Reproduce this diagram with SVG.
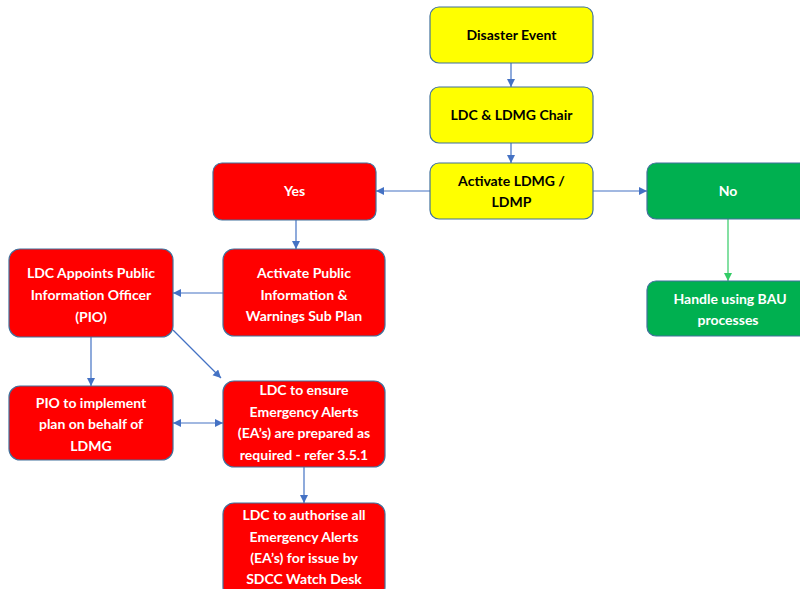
<svg xmlns="http://www.w3.org/2000/svg" width="800" height="589" viewBox="0 0 800 589">
<style>
.box{stroke:#41719C;stroke-width:1.2}
.y{fill:#FFFF00}
.r{fill:#FF0000}
.g{fill:#00B050}
text{font-family:Lato,"Open Sans","Liberation Sans",sans-serif;font-weight:bold;font-size:14px;text-anchor:middle}
.w{fill:#FFFFFF}
.k{fill:#000000}
.c{stroke:#4472C4;stroke-width:1.2;fill:none}
.cg{stroke:#33CC66;stroke-width:1.2;fill:none}
</style>
<defs>
<marker id="a" markerUnits="userSpaceOnUse" markerWidth="10" markerHeight="10" refX="8" refY="4" orient="auto"><path d="M0,0 L8,4 L0,8 Z" fill="#4472C4"/></marker>
<marker id="as" markerUnits="userSpaceOnUse" markerWidth="10" markerHeight="10" refX="0" refY="4" orient="auto"><path d="M8,0 L0,4 L8,8 Z" fill="#4472C4"/></marker>
<marker id="ag" markerUnits="userSpaceOnUse" markerWidth="10" markerHeight="10" refX="8" refY="4" orient="auto"><path d="M0,0 L8,4 L0,8 Z" fill="#33CC66"/></marker>
</defs>
<rect width="800" height="589" fill="#FFFFFF"/>
<g id="connectors">
<line class="c" x1="511" y1="63" x2="511" y2="87" marker-end="url(#a)"/>
<line class="c" x1="511" y1="143" x2="511" y2="163" marker-end="url(#a)"/>
<line class="c" x1="430" y1="191" x2="376" y2="191" marker-end="url(#a)"/>
<line class="c" x1="593" y1="191" x2="647" y2="191" marker-end="url(#a)"/>
<line class="cg" x1="728" y1="219" x2="728" y2="281" marker-end="url(#ag)"/>
<line class="c" x1="296" y1="220" x2="296" y2="249" marker-end="url(#a)"/>
<line class="c" x1="223" y1="293" x2="173" y2="293" marker-end="url(#a)"/>
<line class="c" x1="91" y1="337" x2="91" y2="386" marker-end="url(#a)"/>
<line class="c" x1="173" y1="330" x2="221" y2="378" marker-end="url(#a)"/>
<line class="c" x1="173" y1="423" x2="223" y2="423" marker-start="url(#as)" marker-end="url(#a)"/>
<line class="c" x1="304" y1="467" x2="304" y2="503" marker-end="url(#a)"/>
</g>
<g id="disaster">
<rect class="box y" x="430" y="7" width="163" height="56" rx="9"/>
<text class="k" x="511.5" y="40">Disaster Event</text>
</g>
<g id="chair">
<rect class="box y" x="430" y="87" width="163" height="56" rx="9"/>
<text class="k" x="511.5" y="120">LDC &amp; LDMG Chair</text>
</g>
<g id="activate-ldmg">
<rect class="box y" x="430" y="163" width="163" height="56" rx="9"/>
<text class="k" x="511.5" y="186">Activate LDMG /</text>
<text class="k" x="511.5" y="207">LDMP</text>
</g>
<g id="yes">
<rect class="box r" x="213" y="163" width="163" height="57" rx="9"/>
<text class="w" x="294.5" y="196">Yes</text>
</g>
<g id="no">
<rect class="box g" x="647" y="163" width="163" height="56" rx="9"/>
<text class="w" x="728" y="196">No</text>
</g>
<g id="handle">
<rect class="box g" x="647" y="281" width="163" height="55" rx="9"/>
<text class="w" x="730" y="304">Handle using BAU</text>
<text class="w" x="728" y="325">processes</text>
</g>
<g id="activate-public">
<rect class="box r" x="223" y="249" width="162" height="87" rx="11"/>
<text class="w" x="304" y="278">Activate Public</text>
<text class="w" x="304" y="300">Information &amp;</text>
<text class="w" x="304" y="321">Warnings Sub Plan</text>
</g>
<g id="appoints">
<rect class="box r" x="9" y="249" width="164" height="88" rx="11"/>
<text class="w" x="91" y="278">LDC Appoints Public</text>
<text class="w" x="91" y="300">Information Officer</text>
<text class="w" x="91" y="322">(PIO)</text>
</g>
<g id="pio">
<rect class="box r" x="9" y="386" width="164" height="74" rx="11"/>
<text class="w" x="91" y="408">PIO to implement</text>
<text class="w" x="91" y="429">plan on behalf of</text>
<text class="w" x="91" y="451">LDMG</text>
</g>
<g id="ensure">
<rect class="box r" x="223" y="381" width="162" height="86" rx="11"/>
<text class="w" x="304" y="395">LDC to ensure</text>
<text class="w" x="304" y="417">Emergency Alerts</text>
<text class="w" x="304" y="438">(EA’s) are prepared as</text>
<text class="w" x="304" y="460">required - refer 3.5.1</text>
</g>
<g id="authorise">
<rect class="box r" x="223" y="503" width="162" height="95" rx="11"/>
<text class="w" x="304" y="520">LDC to authorise all</text>
<text class="w" x="304" y="542">Emergency Alerts</text>
<text class="w" x="304" y="563">(EA’s) for issue by</text>
<text class="w" x="304" y="584">SDCC Watch Desk</text>
</g>
</svg>
